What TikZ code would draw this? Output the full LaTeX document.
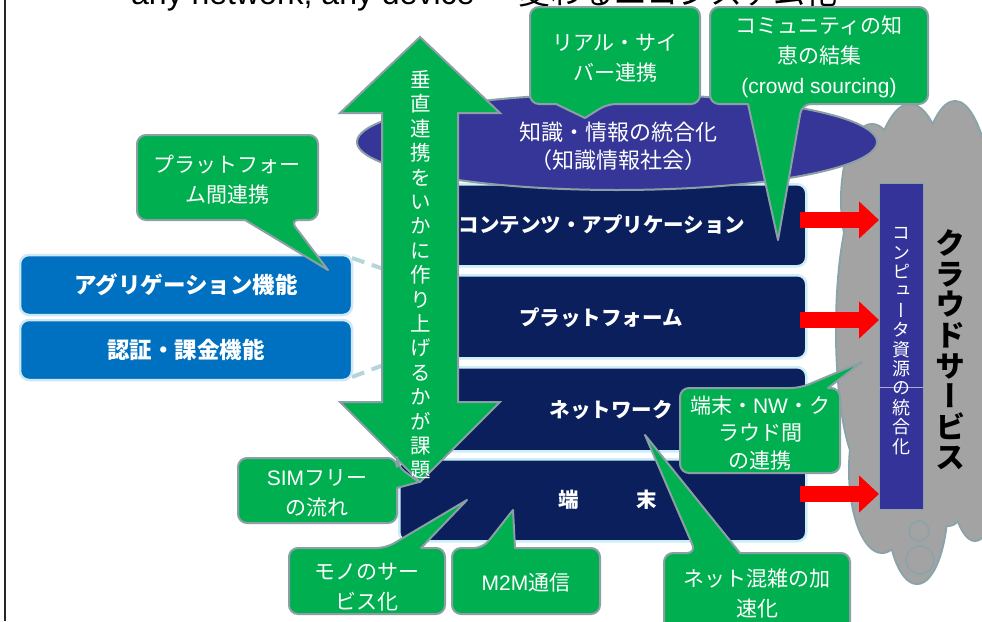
\documentclass[tikz,border=0pt]{standalone}
\usepackage{fontspec}
\setmainfont{Noto Sans CJK JP}
\newfontfamily\jpv{Noto Sans CJK JP}[RawFeature=+vert]
\newfontfamily\arialf{Liberation Sans}
\usetikzlibrary{shapes.geometric,arrows.meta}
\definecolor{cgreen}{HTML}{00B050}
\definecolor{cborder}{HTML}{8C9FA6}
\definecolor{navy}{HTML}{0A1F5C}
\definecolor{glow}{HTML}{CCEFF5}
\definecolor{ellblue}{HTML}{363698}
\definecolor{boxblue}{HTML}{0070C0}
\definecolor{boxglow}{HTML}{CFE8F5}
\definecolor{cloudgrey}{HTML}{A3A3A3}
\definecolor{cloudline}{HTML}{8AA3AB}
\definecolor{barblue}{HTML}{333399}
\definecolor{dashc}{HTML}{B3D6DC}
\begin{document}
\begin{tikzpicture}[x=1pt,y=-1pt,
  layerbox/.style={draw=glow, line width=2.5pt, fill=navy, rounded corners=9pt, inner sep=0, anchor=north west},
  ltext/.style={text=white, font=\bfseries\fontsize{20.5}{24}\selectfont, inner sep=0},
  lbox/.style={draw=boxglow, line width=2.5pt, fill=boxblue, rounded corners=9pt, inner sep=0,
     minimum width=332, minimum height=60, text=white, font=\bfseries\fontsize{22.5}{26}\selectfont},
  co/.style={draw=cborder, line width=2pt, fill=cgreen, line join=round, rounded corners=9pt},
  ctext/.style={text=white, align=center, inner sep=0, font=\fontsize{21}{30}\selectfont},
  redarrow/.style={draw=red, line width=16pt, -{Triangle[length=20pt 0 1,width=36pt 0 1]}},
]
\useasboundingbox (0,0) rectangle (982,621);
\clip (0,0) rectangle (982,621);
\fill[white] (0,0) rectangle (982,621);

% left frame line
\coordinate (lt) at (5,0);
\coordinate (lb) at (5,621);
\draw[line width=2pt, black!85] (lt) -- (lb);

% title (cut off at top)
\node[anchor=base west, inner sep=0, font=\arialf\fontsize{32}{36}\selectfont] (title) at (131,5) {any network, any device};
\node[anchor=base west, inner sep=0, font=\fontsize{32}{36}\selectfont] (title2) at (518,5) {変わるエコシステム化};

% cloud
\foreach \cx/\cy/\rx/\ry in {872/200/30/75, 866/330/29/140, 882/470/32/82, 910/300/50/195, 955/290/45/188, 975/420/30/120, 917/500/30/83, 948/460/26/65}
  \draw[cloudline, line width=4pt] (\cx,\cy) ellipse [x radius=\rx, y radius=\ry];
\foreach \cx/\cy/\rx/\ry in {872/200/30/75, 866/330/29/140, 882/470/32/82, 910/300/50/195, 955/290/45/188, 975/420/30/120, 917/500/30/83, 948/460/26/65}
  \fill[cloudgrey] (\cx,\cy) ellipse [x radius=\rx, y radius=\ry];
\draw[cloudline, line width=1.5pt] (919,531) circle [radius=10];
\draw[cloudline, line width=1.5pt] (920,560) circle [radius=14];

% layers
\node[layerbox, minimum width=407, minimum height=82] (L1) at (398,183) {};
\node[layerbox, minimum width=407, minimum height=83] (L2) at (398,274) {};
\node[layerbox, minimum width=407, minimum height=84] (L3) at (398,366) {};
\node[layerbox, minimum width=407, minimum height=82] (L4) at (398,458) {};
\node[ltext] (L1t) at (602,224) {コンテンツ・アプリケーション};
\node[ltext] (L2t) at (601,318) {プラットフォーム};
\node[ltext] (L3t) at (611,410) {ネットワーク};
\node[ltext] (L4t) at (608,500) {端\hspace{2.8em}末};

% ellipse
\node[ellipse, draw=cborder, line width=2pt, fill=ellblue, minimum width=520, minimum height=96, inner sep=0] (E) at (617,142) {};
\node[text=white, align=center, inner sep=0, font=\fontsize{22}{28}\selectfont] (Et) at (618,146) {知識・情報の統合化\\（知識情報社会）};

% bar in cloud
\node[draw=cloudline, line width=1pt, fill=barblue, minimum width=44, minimum height=326, inner sep=0, anchor=north west] (bar) at (879,183) {};
\coordinate (barl) at (879,387);
\coordinate (barr) at (923,387);
\draw[white!60!barblue, line width=0.6pt] (barl) -- (barr);
\node[text=white, align=center, inner sep=0, font=\jpv\fontsize{18}{19.4}\selectfont] (bart) at (901,341)
  {コ\\ン\\ピ\\ュ\\ー\\タ\\資\\源\\の\\統\\合\\化};
\node[text=black, align=center, inner sep=0, font=\jpv\bfseries\fontsize{30}{30.6}\selectfont] (cloudt) at (950,350)
  {ク\\ラ\\ウ\\ド\\サ\\ー\\ビ\\ス};

% red arrows
\coordinate (r1) at (800,220);
\coordinate (r2) at (800,320);
\coordinate (r3) at (800,494);
\draw[redarrow] (r1) -- (bar.west |- r1);
\draw[redarrow] (r2) -- (bar.west |- r2);
\draw[redarrow] (r3) -- (bar.west |- r3);

% left boxes
\draw[dashc, line width=4pt, dash pattern=on 13pt off 8pt] (352,258) -- (L2.north west);
\draw[dashc, line width=4pt, dash pattern=on 13pt off 8pt] (352,377) -- (L2.south west);
\node[lbox] (agg) at (186,285) {アグリゲーション機能};
\node[lbox] (auth) at (186,350) {認証・課金機能};

% vertical double arrow
\path[co, rounded corners=0pt, line join=miter] (420,37) -- (500,113) -- (458,113) -- (458,402) -- (500,402) -- (420,482)
   -- (340,402) -- (382,402) -- (382,113) -- (340,113) -- cycle;
\node[text=white, align=center, inner sep=0, font=\jpv\fontsize{20.5}{24.4}\selectfont] (At) at (421,275)
  {垂\\直\\連\\携\\を\\い\\か\\に\\作\\り\\上\\げ\\る\\か\\が\\課\\題};

% callouts
\path[co] (227,135) -- (318,135) -- (318,220) -- (290,220) [sharp corners] -- (328,270) -- (245,220) [rounded corners=9pt] -- (137,220) -- (137,135) -- cycle;
\node[ctext] (c1) at (227,180) {プラットフォー\\ム間連携};

\path[co] (615,7) -- (700,7) -- (700,104) -- (607,104) [sharp corners] -- (585,118) -- (556,104) [rounded corners=9pt] -- (530,104) -- (530,7) -- cycle;
\node[ctext] (c2) at (615,58) {リアル・サイ\\バー連携};

\path[co] (820,7) -- (928,7) -- (928,104) -- (802,104) [sharp corners] -- (778,240) -- (748,104) [rounded corners=9pt] -- (710,104) -- (710,7) -- cycle;
\node[ctext] (c3) at (819,57) {コミュニティの知\\恵の結集\\{\arialf (crowd sourcing)}};

\path[co] (317,458) -- (397,458) -- (397,466) [sharp corners] -- (419,482) -- (397,488) [rounded corners=9pt] -- (397,523) -- (238,523) -- (238,458) -- cycle;
\node[ctext] (c4) at (317,493) {{\arialf SIM}フリー\\の流れ};

\path[co] (367,614) -- (289,614) -- (289,548) -- (386,548) [sharp corners] -- (467,500) -- (421,548) [rounded corners=9pt] -- (445,548) -- (445,614) -- cycle;
\node[ctext] (c5) at (367,587) {モノのサー\\ビス化};

\path[co] (526,614) -- (452,614) -- (452,548) -- (483,548) [sharp corners] -- (513,510) -- (515,548) [rounded corners=9pt] -- (600,548) -- (600,614) -- cycle;
\node[ctext] (c6) at (526,583) {{\arialf M2M}通信};

\path[co] (757,632) -- (664,632) -- (664,553) -- (696,553) [sharp corners] -- (645,435) -- (740,553) [rounded corners=9pt] -- (850,553) -- (850,632) -- cycle;
\node[ctext] (c7) at (757,593) {ネット混雑の加\\速化};

\path[co] (760,473) -- (680,473) -- (680,388) -- (800,388) [sharp corners] -- (862,362) -- (828,388) [rounded corners=9pt] -- (840,388) -- (840,473) -- cycle;
\node[ctext, font=\fontsize{21}{27.5}\selectfont] (c8) at (760,433) {端末・{\arialf NW}・ク\\ラウド間\\の連携};
\end{tikzpicture}
\end{document}
